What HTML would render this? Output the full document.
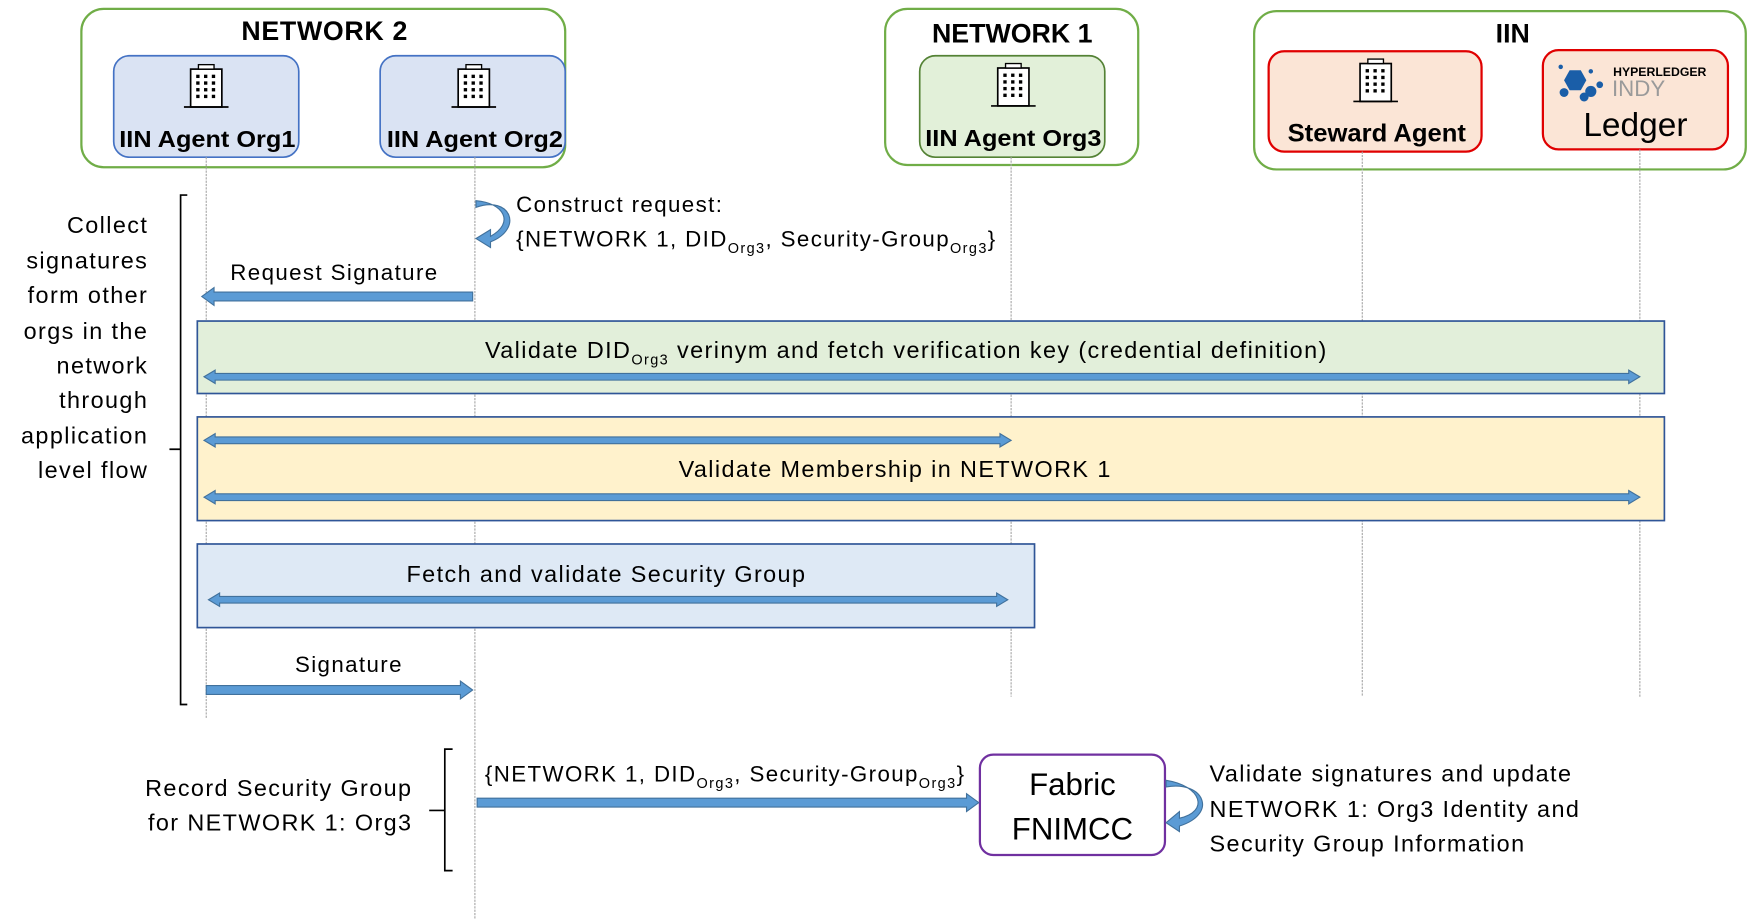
<!DOCTYPE html>
<html><head><meta charset="utf-8">
<style>
html,body{margin:0;padding:0;background:#fff;}
svg{display:block;}
text{font-family:"Liberation Sans",sans-serif;fill:#000;}
.n{letter-spacing:1.25px;}
</style></head>
<body>
<svg id="s" width="1748" height="923" viewBox="0 0 1568 828" preserveAspectRatio="none" xmlns="http://www.w3.org/2000/svg">
<defs>
<g id="bld">
<rect x="-14" y="-18" width="28" height="34" fill="#fff" stroke="#000" stroke-width="1.5"/>
<rect x="-7" y="-22" width="14" height="4" fill="#fff" stroke="#000" stroke-width="1.2"/>
<g fill="#000">
<rect x="-9" y="-13" width="3" height="3"/><rect x="-2" y="-13" width="3" height="3"/><rect x="5" y="-13" width="3" height="3"/>
<rect x="-9" y="-7" width="3" height="3"/><rect x="-2" y="-7" width="3" height="3"/><rect x="5" y="-7" width="3" height="3"/>
<rect x="-9" y="-1" width="3" height="3"/><rect x="-2" y="-1" width="3" height="3"/><rect x="5" y="-1" width="3" height="3"/>
<rect x="-9" y="5" width="3" height="3"/><rect x="-2" y="5" width="3" height="3"/><rect x="5" y="5" width="3" height="3"/>
</g>
<line x1="-20" y1="16" x2="20" y2="16" stroke="#000" stroke-width="1.5"/>
</g>
</defs>

<rect x="73" y="8" width="434" height="142" rx="20" fill="#fff" stroke="#70ad47" stroke-width="2"/>
<rect x="794" y="8" width="227" height="140" rx="20" fill="#fff" stroke="#70ad47" stroke-width="2"/>
<rect x="1125" y="10" width="441" height="142" rx="20" fill="#fff" stroke="#70ad47" stroke-width="2"/>
<text x="291" y="36" font-size="24" font-weight="bold" text-anchor="middle" textLength="149">NETWORK 2</text>
<text x="908" y="38" font-size="24" font-weight="bold" text-anchor="middle">NETWORK 1</text>
<text x="1357" y="38" font-size="24" font-weight="bold" text-anchor="middle">IIN</text>

<rect x="102" y="50" width="166" height="91" rx="14" fill="#dae3f3" stroke="#4472c4" stroke-width="1.5"/>
<rect x="341" y="50" width="166" height="91" rx="14" fill="#dae3f3" stroke="#4472c4" stroke-width="1.5"/>
<rect x="825" y="50" width="166" height="91" rx="14" fill="#e2f0d9" stroke="#548235" stroke-width="1.5"/>
<rect x="1138" y="46" width="191" height="90" rx="14" fill="#fbe5d6" stroke="#e00000" stroke-width="2"/>
<rect x="1384" y="45" width="166" height="89" rx="14" fill="#fbe5d6" stroke="#e00000" stroke-width="2"/>

<use href="#bld" x="185" y="80"/>
<use href="#bld" x="425" y="80"/>
<use href="#bld" x="909" y="79"/>
<use href="#bld" x="1234" y="75"/>
<text x="107" y="132" font-size="21" font-weight="bold" textLength="158" lengthAdjust="spacingAndGlyphs">IIN Agent Org1</text>
<text x="347" y="132" font-size="21" font-weight="bold" textLength="158" lengthAdjust="spacingAndGlyphs">IIN Agent Org2</text>
<text x="830" y="131" font-size="21" font-weight="bold" textLength="158" lengthAdjust="spacingAndGlyphs">IIN Agent Org3</text>
<text x="1155" y="127" font-size="22" font-weight="bold" textLength="160" lengthAdjust="spacingAndGlyphs">Steward Agent</text>
<g fill="#1a5ea8">
<polygon points="1408,63 1418,63 1423,72 1418,81 1408,81 1403,72"/>
<circle cx="1403" cy="83" r="4"/><circle cx="1427" cy="82" r="5"/><circle cx="1435" cy="76" r="3"/><circle cx="1421" cy="87" r="4"/><circle cx="1400" cy="60" r="2"/><circle cx="1427" cy="64" r="2"/>
</g>
<text x="1447" y="68" font-size="11" font-weight="bold" fill="#333">HYPERLEDGER</text>
<text x="1446" y="86" font-size="20" style="fill:#9a9a9a">INDY</text>
<text x="1467" y="122" font-size="30" text-anchor="middle">Ledger</text>

<g stroke="#a6a6a6" stroke-width="1" stroke-dasharray="2,1">
<line x1="185" y1="141" x2="185" y2="645"/>
<line x1="426" y1="141" x2="426" y2="825"/>
<line x1="907" y1="141" x2="907" y2="625"/>
<line x1="1222" y1="136" x2="1222" y2="625"/>
<line x1="1471" y1="134" x2="1471" y2="625"/>
</g>

<path d="M168,175 L162,175 L162,632 L168,632 M162,403 L152,403" fill="none" stroke="#000" stroke-width="1.5"/>
<g font-size="21" text-anchor="end" class="n">
<text x="133" y="209">Collect</text>
<text x="133" y="241">signatures</text>
<text x="133" y="272">form other</text>
<text x="133" y="304">orgs in the</text>
<text x="133" y="335">network</text>
<text x="133" y="366">through</text>
<text x="133" y="398">application</text>
<text x="133" y="429">level flow</text>
</g>

<path d="M427,180 C452,182 462,200 440,212 L440,206 L427,214 L440,222 L440,217 C470,205 458,175 427,186 Z" fill="#5b9bd5" stroke="#41719c" stroke-width="1"/>
<text class="n" x="463" y="190" font-size="20">Construct request:</text>
<text class="n" x="463" y="221" font-size="20">{NETWORK 1, DID<tspan font-size="13" dy="6">Org3</tspan><tspan dy="-6">, Security-Group</tspan><tspan font-size="13" dy="6">Org3</tspan><tspan dy="-6">}</tspan></text>

<text class="n" x="300" y="251" font-size="20" text-anchor="middle">Request Signature</text>

<rect x="177" y="288" width="1316" height="65" fill="#e2efda" stroke="#2f5597" stroke-width="1.5"/>
<text class="n" x="813" y="321" font-size="21" text-anchor="middle">Validate DID<tspan font-size="13" dy="6">Org3</tspan><tspan dy="-6"> verinym and fetch verification key (credential definition)</tspan></text>

<rect x="177" y="374" width="1316" height="93" fill="#fff2cc" stroke="#2f5597" stroke-width="1.5"/>
<text class="n" x="803" y="428" font-size="21" text-anchor="middle">Validate Membership in NETWORK 1</text>

<rect x="177" y="488" width="751" height="75" fill="#dee9f5" stroke="#2f5597" stroke-width="1.5"/>
<text class="n" x="544" y="522" font-size="21" text-anchor="middle">Fetch and validate Security Group</text>

<text class="n" x="313" y="603" font-size="20" text-anchor="middle">Signature</text>

<path d="M406,672 L399,672 L399,781 L406,781 M399,727 L385,727" fill="none" stroke="#000" stroke-width="1.5"/>
<text class="n" x="370" y="714" font-size="21" text-anchor="end">Record Security Group</text>
<text class="n" x="370" y="745" font-size="21" text-anchor="end">for NETWORK 1: Org3</text>
<text class="n" x="435" y="701" font-size="20">{NETWORK 1, DID<tspan font-size="13" dy="6">Org3</tspan><tspan dy="-6">, Security-Group</tspan><tspan font-size="13" dy="6">Org3</tspan><tspan dy="-6">}</tspan></text>

<rect x="879" y="677" width="166" height="90" rx="12" fill="#fff" stroke="#7030a0" stroke-width="2"/>
<text x="962" y="713" font-size="28" text-anchor="middle">Fabric</text>
<text x="962" y="753" font-size="28" text-anchor="middle">FNIMCC</text>
<path d="M1046,700 C1078,705 1085,728 1058,734 L1058,728 L1046,738 L1058,746 L1058,741 C1093,730 1080,700 1046,706 Z" fill="#5b9bd5" stroke="#41719c" stroke-width="1"/>
<g font-size="21" class="n">
<text x="1085" y="701">Validate signatures and update</text>
<text x="1085" y="733">NETWORK 1: Org3 Identity and</text>
<text x="1085" y="764">Security Group Information</text>
</g>

<g id="arrows" fill="#5b9bd5" stroke="#41719c" stroke-width="1"></g>
</svg>
<script>
(function(){
var g=document.getElementById('arrows');
function poly(p){var e=document.createElementNS('http://www.w3.org/2000/svg','polygon');e.setAttribute('points',p);g.appendChild(e);}
function right(x1,x2,y){poly([x1,y-4,x2-11,y-4,x2-11,y-8,x2,y,x2-11,y+8,x2-11,y+4,x1,y+4].join(' '));}
function left(x1,x2,y){poly([x2,y-4,x1+11,y-4,x1+11,y-8,x1,y,x1+11,y+8,x1+11,y+4,x2,y+4].join(' '));}
function both(x1,x2,y){poly([x1,y,x1+10,y-6,x1+10,y-3,x2-10,y-3,x2-10,y-6,x2,y,x2-10,y+6,x2-10,y+3,x1+10,y+3,x1+10,y+6].join(' '));}
left(181,424,266);
both(183,1471,338);
both(183,907,395);
both(183,1471,446);
both(187,904,538);
right(185,424,619);
right(428,878,720);
})();
</script>
</body></html>
